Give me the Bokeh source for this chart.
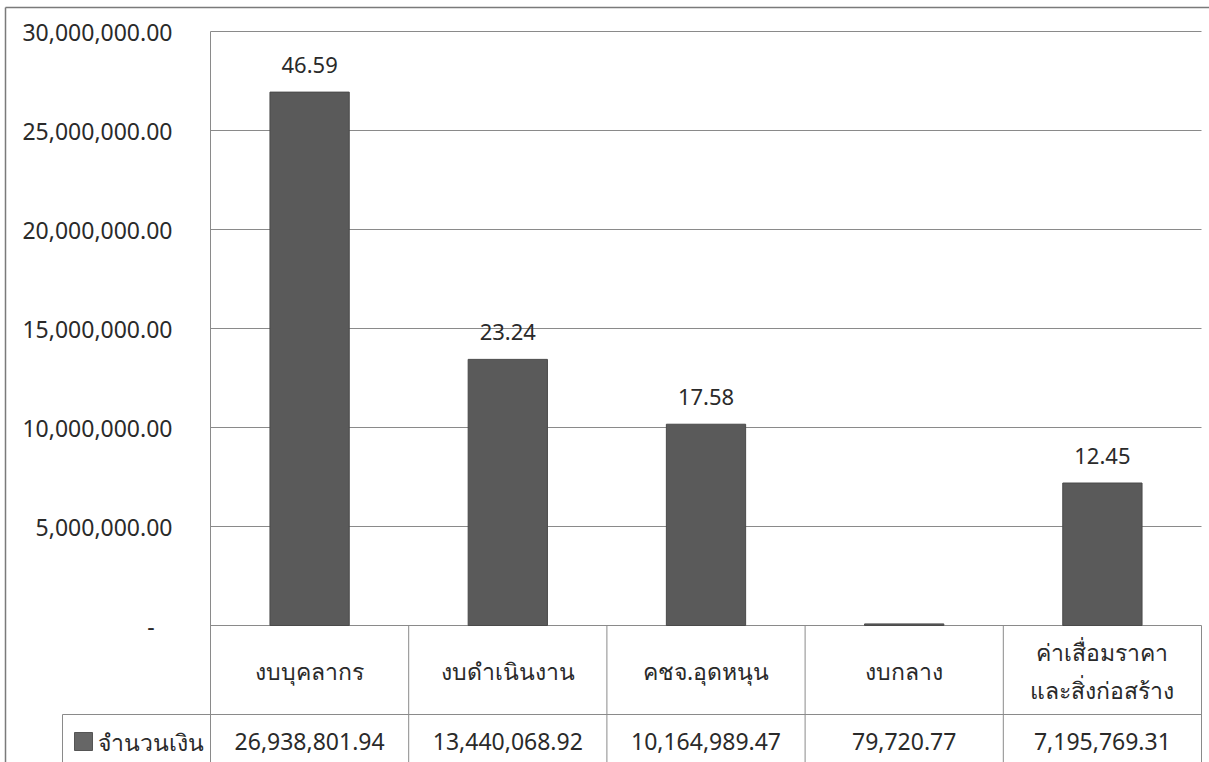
from bokeh.plotting import figure
from bokeh.models import Range1d, FixedTicker, ColumnDataSource
from bokeh.core.properties import value
from bokeh.embed import file_html
from bokeh.resources import INLINE

# ---- data ----
categories = ["งบบุคลากร", "งบดำเนินงาน", "คชจ.อุดหนุน", "งบกลาง", "ค่าเสื่อมราคา\nและสิ่งก่อสร้าง"]
amounts = [26938801.94, 13440068.92, 10164989.47, 79720.77, 7195769.31]
percent_labels = ["46.59", "23.24", "17.58", "", "12.45"]
amount_labels = ["26,938,801.94", "13,440,068.92", "10,164,989.47", "79,720.77", "7,195,769.31"]
series_name = "จำนวนเงิน"
y_ticks = [0, 5000000, 10000000, 15000000, 20000000, 25000000, 30000000]
y_tick_labels = ["-\u00a0\u00a0\u00a0", "5,000,000.00", "10,000,000.00", "15,000,000.00",
                 "20,000,000.00", "25,000,000.00", "30,000,000.00"]

# ---- layout (pixels of the 1209x762 canvas) ----
W, H = 1209, 762
PLOT_L, PLOT_R, PLOT_T, ZERO_PX = 210, 1201, 31, 625
HDR_BOTTOM_PX = 714
LEG_LEFT_PX = 62
BORDER_X, BORDER_Y = 5, 7
n = len(categories)
YMAX = y_ticks[-1]
u = YMAX / (ZERO_PX - PLOT_T)          # data units per pixel (y)
cw = (PLOT_R - PLOT_L) / n             # pixels per category

def py(px):  # canvas pixel row -> data y
    return (ZERO_PX - px) * u

def px_x(px):  # canvas pixel column -> data x (category index space)
    return (px - PLOT_L) / cw

FONT = value("Noto Sans")
TXT = "#2a2a2a"
LINE = "#8a8a8a"
BAR = "#5a5a5a"

p = figure(width=W, height=H, output_backend="svg", toolbar_location=None,
           x_range=Range1d(px_x(0), px_x(W)), y_range=Range1d(py(H), py(0)),
           x_axis_location=None, min_border=0, min_border_left=0, min_border_right=0,
           min_border_top=0, min_border_bottom=0, outline_line_color=None)
p.background_fill_color = "white"
p.border_fill_color = "white"
p.xgrid.visible = False
p.ygrid.visible = False

ax = p.yaxis[0]
ax.fixed_location = 0
ax.bounds = (py(H), YMAX)
ax.ticker = FixedTicker(ticks=y_ticks)
ax.major_label_overrides = {t: l for t, l in zip(y_ticks, y_tick_labels)}
ax.major_tick_line_color = None
ax.minor_tick_line_color = None
ax.major_tick_out = 0
ax.major_tick_in = 0
ax.minor_tick_out = 0
ax.axis_line_color = LINE
ax.major_label_standoff = 38
ax.major_label_text_font = "Noto Sans"
ax.major_label_text_font_size = "23px"
ax.major_label_text_color = TXT

xpos = [i + 0.5 for i in range(n)]
src = ColumnDataSource(dict(x=xpos, cat=categories, amt=amounts, pct=percent_labels,
                            amtl=amount_labels, pct_y=[a + 27 * u for a in amounts]))

# horizontal grid lines at the y ticks
p.segment(x0=[0] * len(y_ticks), x1=[n] * len(y_ticks), y0=y_ticks, y1=y_ticks,
          line_color=LINE, line_width=1)

p.vbar(x="x", top="amt", bottom=0, width=0.4, source=src, fill_color=BAR,
       line_color="#4a4a4a", line_width=1)

p.text(x="x", y="pct_y", text="pct", source=src, text_align="center", text_baseline="middle",
       text_font=FONT, text_font_size="22px", text_color=TXT)

# data table grid
p.segment(x0=list(range(1, n + 1)), x1=list(range(1, n + 1)), y0=[0] * n, y1=[py(H)] * n,
          line_color=LINE, line_width=1)
p.segment(x0=[px_x(LEG_LEFT_PX)], x1=[n], y0=[py(HDR_BOTTOM_PX)], y1=[py(HDR_BOTTOM_PX)],
          line_color=LINE, line_width=1)
p.segment(x0=[px_x(LEG_LEFT_PX)], x1=[px_x(LEG_LEFT_PX)], y0=[py(HDR_BOTTOM_PX)], y1=[py(H)],
          line_color=LINE, line_width=1)

# header row (category names) and value row
p.text(x="x", y=py((ZERO_PX + HDR_BOTTOM_PX) / 2 + 1), text="cat", source=src, text_align="center",
       text_baseline="middle", text_font=FONT, text_font_size="23px", text_color=TXT,
       text_line_height=1.2)
p.text(x="x", y=py(741), text="amtl", source=src, text_align="center", text_baseline="middle",
       text_font=FONT, text_font_size="23px", text_color=TXT)

# legend key in the table's first column
p.scatter(x=[px_x(83)], y=[py(741)], marker="square", size=18, fill_color="#666666",
          line_color="#555555")
p.text(x=[px_x(97)], y=[py(741)], text=[series_name], text_align="left", text_baseline="middle",
       text_font=FONT, text_font_size="23px", text_color=TXT)

# outer chart border (left and top edges visible)
p.segment(x0=[px_x(BORDER_X), px_x(BORDER_X)], x1=[px_x(BORDER_X), px_x(W)],
          y0=[py(BORDER_Y), py(BORDER_Y)], y1=[py(H), py(BORDER_Y)],
          line_color="#7a7a7a", line_width=1.5)

open("out.html", "w").write(file_html(p, INLINE))
